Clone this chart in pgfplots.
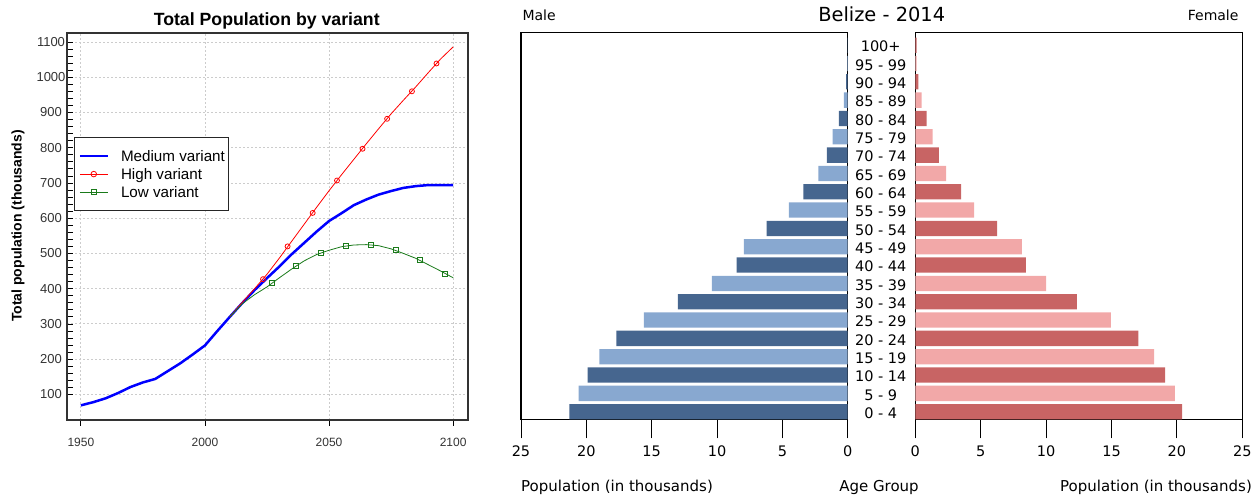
\documentclass[border=0pt]{standalone}
\usepackage{fontspec}
\setmainfont{Liberation Sans}
\newfontfamily\dejavu{DejaVu Sans}
\usepackage{pgfplots}
\pgfplotsset{compat=1.18}

\definecolor{maledark}{HTML}{46668F}
\definecolor{malelight}{HTML}{88A8D0}
\definecolor{femdark}{HTML}{C86464}
\definecolor{femlight}{HTML}{F2A8A8}
\definecolor{lowgreen}{HTML}{1A7A1A}

\begin{document}
\begin{tikzpicture}[x=1pt,y=1pt]
\useasboundingbox (0,0) rectangle (1260,500);

% ---------------- left chart ----------------
\begin{axis}[
  at={(67pt,80pt)}, anchor=south west, scale only axis,
  width=401pt, height=387pt,
  xmin=1944.4, xmax=2106, ymin=27.4, ymax=1125.5,
  xtick={1950,2000,2050,2100},
  ytick={100,200,...,1100},
  minor y tick num=4,
  xtick pos=lower, ytick pos=left,
  xtick align=outside, ytick align=inside,
  major tick length=6pt, minor tick length=6pt,
  tick style={black, line width=0.8pt},
  grid=major,
  major grid style={gray!40, line width=0.9pt, dash pattern=on 1.5pt off 2.5pt},
  axis line style={black!80, line width=1.3pt},
  /pgf/number format/assume math mode=true,
  /pgf/number format/1000 sep={},
  xticklabel style={font=\fontsize{12}{12}\selectfont, text=black!80, yshift=-9pt},
  yticklabel style={font=\fontsize{13}{13}\selectfont, text=black!80, anchor=center, xshift=-16pt},
  legend cell align=left,
  legend image code/.code={\draw[mark repeat=2,mark phase=2] plot coordinates {(0pt,0pt)(14pt,0pt)(28pt,0pt)};},
  legend style={at={(0.0175,0.731)}, anchor=north west, draw=black!85, line width=1pt,
    font=\fontsize{15.2}{15.2}\selectfont, inner xsep=4pt, inner ysep=9.5pt,
    row sep=0pt, column sep=12pt,
    nodes={inner sep=0pt, text height=14pt, text depth=4pt}},
]
\addplot[blue, line width=2.5pt] coordinates {
(1950,69) (1955,78) (1960,89) (1965,104) (1970,121) (1975,134) (1980,144)
(1985,166) (1990,188) (1995,213) (2000,239) (2005,280) (2010,320) (2015,359)
(2020,396) (2025,430) (2030,463) (2035,498) (2040,530) (2045,562) (2050,592)
(2055,614) (2060,637) (2065,653) (2070,667) (2075,677) (2080,686) (2085,691)
(2090,694) (2095,694) (2100,694)};
\addlegendentry{Medium variant\hspace{7pt}}
\addplot[red, line width=0.8pt, forget plot] coordinates {
(2010,320) (2015,361) (2020,400) (2025,441) (2030,487) (2035,535) (2040,583)
(2045,631) (2050,678) (2055,723) (2060,767) (2065,811) (2070,854) (2075,896)
(2080,935) (2085,973) (2090,1013) (2095,1052) (2100,1086)};
\addplot[red, only marks, mark=o, mark size=2.5pt, line width=0.8pt, forget plot] coordinates {
(2023.4,427) (2033.3,520) (2043.4,615) (2053.2,707) (2063.5,797) (2073.4,882)
(2083.4,960) (2093.3,1039)};
\addplot[lowgreen, line width=0.8pt, forget plot] coordinates {
(2010,320) (2015,357) (2020,383) (2025,405) (2030,431) (2035,456) (2040,479)
(2045,497) (2050,509) (2055,519) (2060,524) (2065,525) (2070,522) (2075,513)
(2080,500) (2085,486) (2090,468) (2095,450) (2100,431)};
\addplot[lowgreen, only marks, mark=square, mark size=2.5pt, line width=0.8pt, forget plot] coordinates {
(2026.9,415) (2036.7,465) (2046.8,501) (2056.9,522) (2066.7,524) (2076.8,509)
(2086.7,481) (2096.7,443)};
\addlegendimage{red, line width=0.8pt, mark=o, mark size=2.8pt}
\addlegendentry{High variant}
\addlegendimage{lowgreen, line width=0.8pt, mark=square, mark size=2.8pt}
\addlegendentry{Low variant}
\end{axis}

\node[font=\fontsize{17.7}{18}\selectfont\bfseries] at (266.7,479.3) {Total Population by variant};
\node[rotate=90, font=\fontsize{14}{14}\selectfont\bfseries] at (18,274) {Total population (thousands)};

% ---------------- right chart: male ----------------
\begin{axis}[
  at={(521pt,80.7pt)}, anchor=south west, scale only axis,
  width=326.7pt, height=386.6pt,
  x dir=reverse, xmin=0, xmax=25, ymin=-0.415, ymax=20.68,
  xbar, bar width=15.3pt, bar shift=0pt,
  xtick={0,5,...,25}, xtick pos=lower, tick align=outside,
  major tick length=19pt,
  tick style={black, line width=1pt},
  ytick={0,...,20},
  yticklabels={0 - 4,5 - 9,10 - 14,15 - 19,20 - 24,25 - 29,30 - 34,35 - 39,40 - 44,45 - 49,50 - 54,55 - 59,60 - 64,65 - 69,70 - 74,75 - 79,80 - 84,85 - 89,90 - 94,95 - 99,100+},
  yticklabel pos=right,
  y tick style={draw=none},
  yticklabel style={anchor=center, xshift=14pt, yshift=-1.5pt, font=\dejavu\fontsize{14.5}{14.5}\selectfont},
  axis line style={black, line width=1.2pt},
  /pgf/number format/assume math mode=true,
  xticklabel style={font=\dejavu\fontsize{14.5}{14.5}\selectfont, yshift=-4pt},
]
\addplot[fill=maledark, draw=none] coordinates {
(21.3,0) (19.9,2) (17.7,4) (13.0,6) (8.5,8) (6.2,10) (3.4,12) (1.6,14) (0.67,16) (0.13,18) (0.03,20)};
\addplot[fill=malelight, draw=none] coordinates {
(20.6,1) (19.0,3) (15.6,5) (10.4,7) (7.95,9) (4.5,11) (2.25,13) (1.15,15) (0.3,17) (0.05,19)};
\end{axis}

% ---------------- right chart: female ----------------
\begin{axis}[
  at={(915.3pt,80.7pt)}, anchor=south west, scale only axis,
  width=327pt, height=386.6pt,
  xmin=0, xmax=25, ymin=-0.415, ymax=20.68,
  xbar, bar width=15.3pt, bar shift=0pt,
  xtick={0,5,...,25}, xtick pos=lower, tick align=outside,
  major tick length=19pt,
  tick style={black, line width=1pt},
  ytick=\empty,
  axis line style={black, line width=1.2pt},
  /pgf/number format/assume math mode=true,
  xticklabel style={font=\dejavu\fontsize{14.5}{14.5}\selectfont, yshift=-4pt},
]
\addplot[fill=femdark, draw=none] coordinates {
(20.4,0) (19.1,2) (17.05,4) (12.35,6) (8.45,8) (6.25,10) (3.5,12) (1.8,14) (0.87,16) (0.23,18) (0.1,20)};
\addplot[fill=femlight, draw=none] coordinates {
(19.85,1) (18.25,3) (14.95,5) (10.0,7) (8.15,9) (4.5,11) (2.35,13) (1.33,15) (0.48,17) (0.1,19)};
\end{axis}

\node[anchor=west, font=\dejavu\fontsize{14}{14}\selectfont] at (519,485) {Male};
\node[anchor=east, font=\dejavu\fontsize{14}{14}\selectfont] at (1242,485) {Female};
\node[font=\dejavu\fontsize{19.4}{19.4}\selectfont] at (881.7,486) {Belize - 2014};
\node[anchor=base west, inner sep=0pt, font=\dejavu\fontsize{15}{15}\selectfont] at (521,8.3) {Population (in thousands)};
\node[anchor=base, inner sep=0pt, font=\dejavu\fontsize{15}{15}\selectfont] at (879,8.3) {Age Group};
\node[anchor=base east, inner sep=0pt, font=\dejavu\fontsize{15}{15}\selectfont] at (1252,8.3) {Population (in thousands)};
\end{tikzpicture}
\end{document}
